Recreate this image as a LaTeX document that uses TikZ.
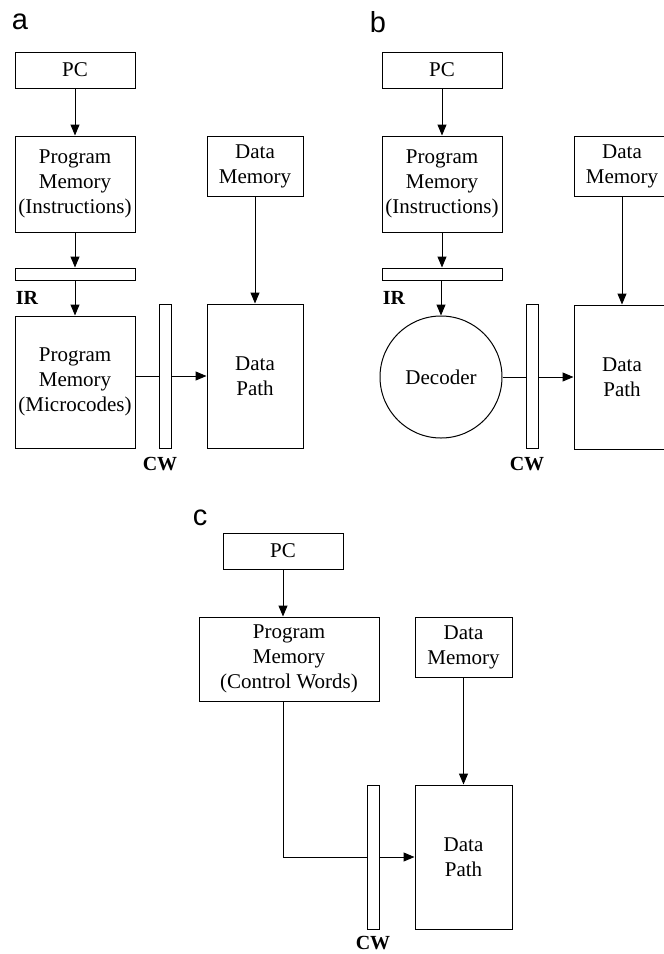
\documentclass[tikz,border=0pt]{standalone}
\usepackage{fontspec}
\setmainfont{Liberation Serif}
\newfontfamily\panelfont{Liberation Sans}
\usetikzlibrary{arrows.meta}
\tikzset{
  box/.style={draw, line width=1pt, fill=white, inner sep=0pt, align=center,
    font=\fontsize{21}{25}\selectfont},
  bar/.style={draw, line width=1pt, fill=white, inner sep=0pt},
  tag/.style={font=\fontsize{20}{22}\selectfont\bfseries, inner sep=0pt},
  panel/.style={font=\panelfont\fontsize{29}{30}\selectfont, inner sep=0pt},
  arr/.style={line width=1pt, -{Triangle[length=11pt,width=9pt]}}
}
\begin{document}
\begin{tikzpicture}[x=1pt,y=-1pt]
\useasboundingbox (0,0) rectangle (664,954);
\clip (0,0) rectangle (664,954);
\fill[white] (0,0) rectangle (664,954);
% ---------- panel a ----------
\node[panel] (la) at (20,22) {a};
\node[box, minimum width=120pt, minimum height=36pt] (pca) at (75,70) {PC};
\node[box, minimum width=120pt, minimum height=96pt] (pma) at (75,184) {Program\\Memory\\(Instructions)};
\node[bar, minimum width=120pt, minimum height=12pt] (ira) at (75,274) {};
\node[tag] (irla) at (27,298) {IR};
\node[box, minimum width=120pt, minimum height=132pt] (pmma) at (75,382) {Program\\Memory\\(Microcodes)};
\node[box, minimum width=96pt, minimum height=60pt] (dma) at (255,166) {Data\\Memory};
\node[box, minimum width=96pt, minimum height=144pt] (dpa) at (255,376) {Data\\Path};
\draw[arr] (pca) -- (pma);
\draw[arr] (pma) -- (ira);
\draw[arr] (ira) -- (pmma);
\draw[arr] (dma) -- (dpa);
\draw[arr] (pmma.east |- dpa.west) -- (dpa.west);
\node[bar, minimum width=12pt, minimum height=144pt] (cwa) at (165,376) {};
\node[tag] (cwla) at (160,464) {CW};
% ---------- panel b ----------
\node[panel] (lb) at (378,22) {b};
\node[box, minimum width=120pt, minimum height=36pt] (pcb) at (442,70) {PC};
\node[box, minimum width=120pt, minimum height=96pt] (pmb) at (442,184) {Program\\Memory\\(Instructions)};
\node[bar, minimum width=120pt, minimum height=12pt] (irb) at (442,274) {};
\node[tag] (irlb) at (394,298) {IR};
\node[box, circle, minimum size=122pt] (dec) at (441,377) {Decoder};
\node[box, minimum width=96pt, minimum height=60pt] (dmb) at (622,166) {Data\\Memory};
\node[box, minimum width=96pt, minimum height=144pt] (dpb) at (622,377) {Data\\Path};
\draw[arr] (pcb) -- (pmb);
\draw[arr] (pmb) -- (irb);
\draw[arr] (irb.south -| dec.north) -- (dec.north);
\draw[arr] (dmb) -- (dpb);
\draw[arr] (dec.east) -- (dec.east -| dpb.west);
\node[bar, minimum width=12pt, minimum height=144pt] (cwb) at (532,376) {};
\node[tag] (cwlb) at (527,464) {CW};
% ---------- panel c ----------
\node[panel] (lc) at (200,518) {c};
\node[box, minimum width=120pt, minimum height=36pt] (pcc) at (283,551) {PC};
\node[box, minimum width=180pt, minimum height=84pt] (pmc) at (289,659) {Program\\Memory\\(Control Words)};
\node[box, minimum width=97pt, minimum height=60pt] (dmc) at (463.5,647) {Data\\Memory};
\node[box, minimum width=97pt, minimum height=144pt] (dpc) at (463.5,857) {Data\\Path};
\draw[arr] (pcc.south) -- (pcc.south |- pmc.north);
\draw[arr] (dmc) -- (dpc);
\draw[arr] (pcc.south |- pmc.south) |- (dpc.west);
\node[bar, minimum width=12pt, minimum height=144pt] (cwc) at (373,857) {};
\node[tag] (cwlc) at (373,943) {CW};
\end{tikzpicture}
\end{document}
